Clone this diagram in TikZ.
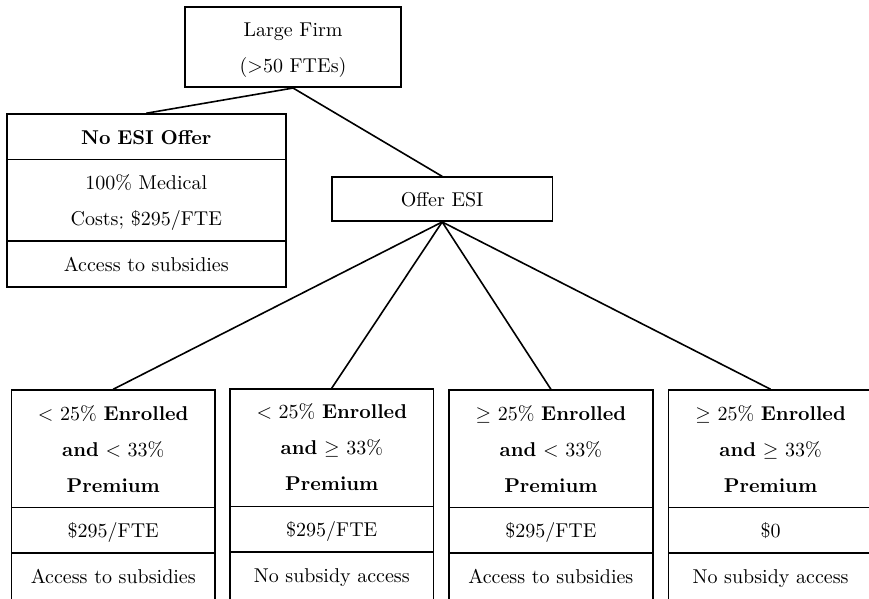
\documentclass[tikz,border=0pt]{standalone}
\usepackage{xcolor}
\usepackage{tikz}
\usetikzlibrary{shapes.multipart}

\newcommand{\deepstrut}{\rule[-10pt]{0pt}{10pt}}

\begin{document}
\begin{tikzpicture}[
                    box/.style={draw, thick, align=center, inner xsep=4pt, inner ysep=2pt,
                                font=\fontsize{10}{18}\selectfont},
                    splitbox/.style={box, rectangle split, rectangle split parts=3, anchor=north},
                    leafbox/.style={splitbox, text width=3.30cm},
                    link/.style={thick}
                  ]
                    \useasboundingbox (0,0) rectangle (15.27,-10.51);

                    \node[box, text width=3.52cm] (firm) at (5.15,-0.83)
                        {\strut Large Firm\\($>$50 FTEs)\strut};

                    \node[splitbox, text width=4.62cm] (noesi) at (2.57,-1.99)
                        {\strut\textbf{No ESI Offer}\strut
                         \nodepart{two}\strut 100\% Medical\\Costs; \$295/FTE\strut
                         \nodepart{three}\strut Access to subsidies\strut};

                    \node[box, text width=3.59cm] (offer) at (7.77,-3.50) {\strut Offer ESI\strut};

                    \node[leafbox] (lowlow) at (1.99,-6.84)
                        {\strut$<$ 25\% \textbf{Enrolled}\\\textbf{and} $<$ 33\%\\\textbf{Premium}\strut
                         \nodepart{two}\strut\$295/FTE\strut
                         \nodepart{three}\strut Access to subsidies\deepstrut};
                    \node[leafbox] (lowhigh) at (5.83,-6.82)
                        {\strut$<$ 25\% \textbf{Enrolled}\\\textbf{and} $\geq$ 33\%\\\textbf{Premium}\strut
                         \nodepart{two}\strut\$295/FTE\strut
                         \nodepart{three}\strut No subsidy access\deepstrut};
                    \node[leafbox] (highlow) at (9.68,-6.84)
                        {\strut$\geq$ 25\% \textbf{Enrolled}\\\textbf{and} $<$ 33\%\\\textbf{Premium}\strut
                         \nodepart{two}\strut\$295/FTE\strut
                         \nodepart{three}\strut Access to subsidies\deepstrut};
                    \node[leafbox] (highhigh) at (13.54,-6.84)
                        {\strut$\geq$ 25\% \textbf{Enrolled}\\\textbf{and} $\geq$ 33\%\\\textbf{Premium}\strut
                         \nodepart{two}\strut\$0\strut
                         \nodepart{three}\strut No subsidy access\deepstrut};

                    \draw[link] (firm.south) -- (noesi.north);
                    \draw[link] (firm.south) -- (offer.north);
                    \draw[link] (offer.south) -- (lowlow.north);
                    \draw[link] (offer.south) -- (lowhigh.north);
                    \draw[link] (offer.south) -- (highlow.north);
                    \draw[link] (offer.south) -- (highhigh.north);
                \end{tikzpicture}
\end{document}
